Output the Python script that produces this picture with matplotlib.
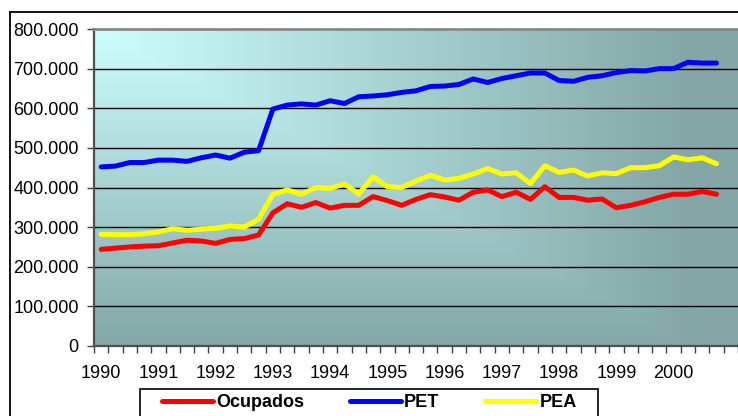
import numpy as np
import matplotlib
matplotlib.use("Agg")
import matplotlib.pyplot as plt
from matplotlib.lines import Line2D
from matplotlib.patches import Rectangle
from matplotlib.ticker import FuncFormatter

plt.rcParams['font.family'] = ['Liberation Sans', 'DejaVu Sans']

years = ["1990", "1991", "1992", "1993", "1994", "1995", "1996",
         "1997", "1998", "1999", "2000"]

ocupados = [244, 247, 250, 252, 253, 260, 267, 265, 259, 269, 271, 280,
            336, 359, 350, 362, 348, 355, 355, 377, 367, 355, 370, 382,
            376, 368, 388, 394, 377, 388, 370, 402, 375, 375, 368, 371,
            349, 355, 364, 375, 383, 383, 390, 383]
pet = [452, 454, 463, 463, 469, 469, 466, 475, 482, 474, 489, 493,
       598, 608, 611, 608, 619, 612, 629, 631, 634, 640, 644, 655,
       656, 660, 674, 665, 675, 682, 689, 689, 670, 668, 678, 682,
       690, 695, 694, 700, 700, 716, 714, 714]
pea = [282, 281, 281, 283, 288, 296, 292, 295, 297, 303, 300, 320,
       383, 394, 383, 400, 398, 409, 384, 427, 402, 400, 416, 431,
       419, 423, 434, 448, 434, 437, 410, 455, 438, 444, 429, 437,
       435, 450, 450, 455, 477, 470, 475, 460]

ocupados = [v * 1000 for v in ocupados]
pet = [v * 1000 for v in pet]
pea = [v * 1000 for v in pea]

W, H = 738, 416
fig = plt.figure(figsize=(W / 100, H / 100), dpi=100)
fig.patch.set_facecolor("white")

ax = fig.add_axes([94 / W, 1 - 346 / H, (738 - 94) / W, (346 - 29) / H])

# gradient background ("from corner")
gw, gh = 400, 200
xn = np.linspace(0, 1, gw)[None, :]
yn = np.linspace(0, 1, gh)[:, None]
t = np.clip(np.maximum(xn * 1.08, yn), 0, 1)
c0 = np.array([0xCC, 0xFF, 0xFF]) / 255
c1 = np.array([0x84, 0xA6, 0xA6]) / 255
img = c0[None, None, :] * (1 - t[..., None]) + c1[None, None, :] * t[..., None]
ax.imshow(img, extent=[0, 1, 0, 1], transform=ax.transAxes, aspect="auto",
          zorder=0, interpolation="bilinear")

x = np.arange(len(pet))
lw = 3.6
ax.plot(x, ocupados, color="#FF0000", lw=lw, solid_capstyle="round", zorder=3, label="Ocupados")
ax.plot(x, pet, color="#0000FF", lw=lw, solid_capstyle="round", zorder=3, label="PET")
ax.plot(x, pea, color="#FFFF00", lw=lw, solid_capstyle="round", zorder=3, label="PEA")

ax.set_xlim(-0.5, 44.5)
ax.set_ylim(0, 800000)

yt = np.arange(0, 800001, 100000)
ax.set_yticks(yt)
ax.yaxis.set_major_formatter(FuncFormatter(lambda v, p: "0" if v == 0 else f"{int(v):,}".replace(",", ".")))
for v in yt[1:-1]:
    ax.axhline(v, color="black", lw=1.0, zorder=1)

ax.set_xticks(np.arange(0, 41, 4))
ax.set_xticklabels(years)
ax.set_xticks(np.arange(-0.5, 45, 1), minor=True)
ax.tick_params(axis="x", which="major", length=0, pad=14, labelsize=13)
ax.tick_params(axis="x", which="minor", length=5, width=1, color="#404040", direction="out")
ax.tick_params(axis="y", length=5, width=1, color="#404040", pad=6, labelsize=13)

for s in ["left", "bottom"]:
    ax.spines[s].set_color("#505050")
    ax.spines[s].set_linewidth(1.6)
ax.spines["top"].set_color("#888888")
ax.spines["top"].set_linewidth(2.0)
ax.spines["right"].set_visible(False)

# outer chart border
fig.add_artist(Line2D([10 / W, 10 / W], [0, 1 - 12 / H], color="black", lw=1.3,
                      transform=fig.transFigure))
fig.add_artist(Line2D([10 / W, 1], [1 - 12 / H, 1 - 12 / H], color="black", lw=1.3,
                      transform=fig.transFigure))

# legend frame
fig.add_artist(Rectangle((140 / W, -0.05), (598 - 140) / W, 0.05 + 1 - 389 / H,
                         transform=fig.transFigure, facecolor="white",
                         edgecolor="black", lw=1.2, zorder=5))
handles, labels = ax.get_legend_handles_labels()
leg = fig.legend(handles, labels, loc="upper left", bbox_to_anchor=(162 / W, 1 - 394 / H),
                 ncol=3, frameon=False, borderpad=0, borderaxespad=0,
                 handlelength=2.82, handletextpad=0.17, columnspacing=2.55,
                 prop={"weight": "bold", "size": 13})
leg.set_zorder(6)

fig.savefig("out.png", dpi=100, facecolor="white")
